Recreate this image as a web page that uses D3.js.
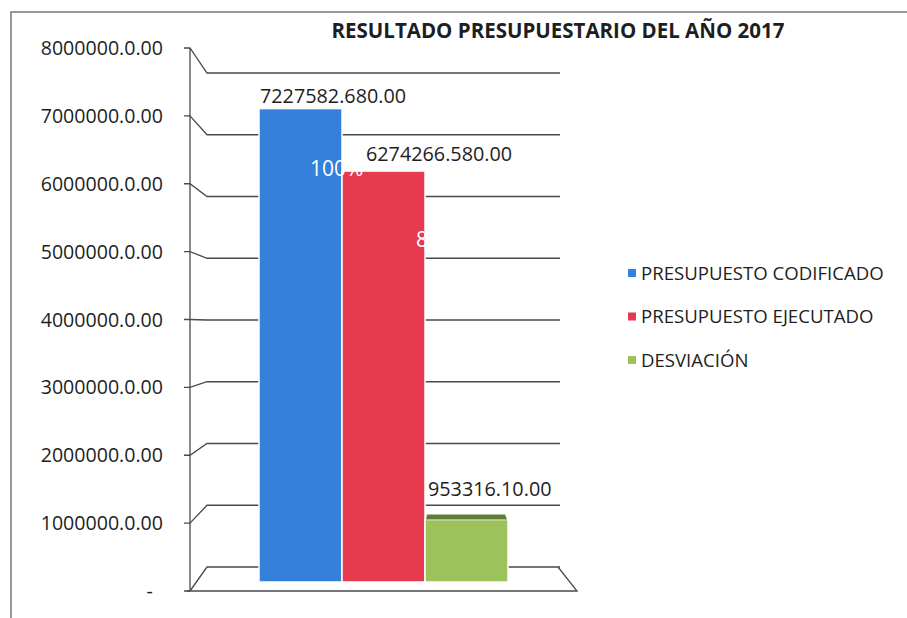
<!DOCTYPE html>
<html>
<head>
<meta charset="utf-8">
<script src="https://cdn.jsdelivr.net/npm/d3@7"></script>
<style>
  body { margin: 0; background: #fff; }
  svg { display: block; font-family: "Open Sans", sans-serif; }
</style>
</head>
<body>
<div id="chart"></div>
<script>
// data
const categories = ["PRESUPUESTO CODIFICADO", "PRESUPUESTO EJECUTADO", "DESVIACIÓN"];
const values = [7227582.68, 6274266.58, 953316.10];
const valueLabels = ["7227582.680.00", "6274266.580.00", "953316.10.00"];
const pctLabels = ["100%", "87%", ""];
const yTicks = [0, 1000000, 2000000, 3000000, 4000000, 5000000, 6000000, 7000000, 8000000];
const tickLabels = ["-  ", "1000000.0.00", "2000000.0.00", "3000000.0.00", "4000000.0.00",
                    "5000000.0.00", "6000000.0.00", "7000000.0.00", "8000000.0.00"];
const title = "RESULTADO PRESUPUESTARIO DEL AÑO 2017";

const colors = ["#3580da", "#e63a4e", "#9cc25c"];
const topColors = ["#3580da", "#e63a4e", "#5e7d36"];

const width = 907,
      height = 618;

const svg = d3.select("#chart").append("svg")
    .attr("width", width)
    .attr("height", height);

// scan frame (only top and left edge show)
svg.append("path")
    .attr("d", "M11,618 L11,12 L907,12")
    .attr("fill", "none")
    .attr("stroke", "#777")
    .attr("stroke-width", 1.5);

// three vertical scales: front edge, back wall, bars (perspective)
const yFront = d3.scaleLinear().domain([0, 8000000]).range([591, 48]);
const yBack = d3.scaleLinear().domain([0, 8000000]).range([567, 73]);
const yBar = d3.scaleLinear().domain([0, 8000000]).range([582, 58]);

const x = d3.scaleBand().domain(categories).range([259, 508]).padding(0);

const axisX = 190, backX = 207, backRight = 560;

// back wall gridlines + side wall diagonals
const grid = svg.append("g")
    .attr("stroke", "#4a4a4a")
    .attr("stroke-width", 1.3)
    .attr("fill", "none");

grid.selectAll(".gl")
    .data(yTicks)
    .enter().append("path")
    .attr("class", "gl")
    .attr("d", d => "M" + (axisX - 6) + "," + yFront(d) + " L" + axisX + "," + yFront(d) +
                   " L" + backX + "," + yBack(d) + " L" + backRight + "," + yBack(d));

// vertical axis line
grid.append("line")
    .attr("x1", axisX).attr("x2", axisX)
    .attr("y1", yFront(8000000)).attr("y2", yFront(0));

// floor
grid.append("path")
    .attr("d", "M" + (axisX - 3) + "," + yFront(0) + " L577," + yFront(0) +
               " L558," + yBack(0));

// tick labels
svg.append("g")
    .selectAll("text")
    .data(yTicks)
    .enter().append("text")
    .attr("x", 163)
    .attr("y", d => yFront(d) + 7)
    .attr("text-anchor", "end")
    .style("white-space", "pre")
    .style("font-size", "19.6px")
    .attr("fill", "#1e1e1e")
    .text((d, i) => tickLabels[i]);

// bars
const bars = svg.append("g");
bars.selectAll("rect")
    .data(values)
    .enter().append("rect")
    .attr("x", (d, i) => x(categories[i]))
    .attr("y", d => yBar(d))
    .attr("width", x.bandwidth())
    .attr("height", d => yBar(0) - yBar(d))
    .attr("fill", (d, i) => colors[i])
    .attr("stroke", "#fff")
    .attr("stroke-width", 1.5);

// 3d top face (visible on the small bar)
bars.selectAll(".top")
    .data(values)
    .enter().append("path")
    .attr("class", "top")
    .attr("d", (d, i) => {
        const x0 = x(categories[i]), x1 = x0 + x.bandwidth(), t = yBar(d);
        return "M" + (x0 + 1) + "," + t + " L" + (x0 + 2) + "," + (t - 5) +
               " L" + (x1 - 3) + "," + (t - 5) + " L" + (x1 - 1) + "," + t + "Z";
    })
    .attr("fill", (d, i) => topColors[i])
    .attr("opacity", (d, i) => i === 2 ? 1 : 0);

// value labels (hand-placed in the original)
const labelDx = [1, 24, 3],
      labelDy = [-6, -10, -24];
svg.append("g")
    .selectAll("text")
    .data(values)
    .enter().append("text")
    .attr("x", (d, i) => x(categories[i]) + labelDx[i])
    .attr("y", (d, i) => yBar(d) + labelDy[i])
    .style("font-size", "19.8px")
    .attr("fill", "#1e1e1e")
    .text((d, i) => valueLabels[i]);

// percentage labels, white, mostly hidden
const pctDx = [51, 74],
      pctDy = [67, 76];
svg.append("g")
    .selectAll("text")
    .data(values.slice(0, 2))
    .enter().append("text")
    .attr("x", (d, i) => x(categories[i]) + pctDx[i])
    .attr("y", (d, i) => yBar(d) + pctDy[i])
    .style("font-size", "21px")
    .attr("fill", "#ffffff")
    .text((d, i) => pctLabels[i]);

// title
svg.append("text")
    .attr("x", 558)
    .attr("y", 38)
    .attr("text-anchor", "middle")
    .style("font-size", "20.5px")
    .style("font-weight", "bold")
    .attr("fill", "#1e1e1e")
    .text(title);

// legend
const legend = svg.append("g")
    .selectAll("g")
    .data(categories)
    .enter().append("g")
    .attr("transform", (d, i) => "translate(628," + (273 + i * 43.5) + ")");

legend.append("rect")
    .attr("x", 0).attr("y", -4)
    .attr("width", 8).attr("height", 8)
    .attr("fill", (d, i) => colors[i]);

legend.append("text")
    .attr("x", 13)
    .attr("y", 6.5)
    .style("font-size", "18.6px")
    .attr("fill", "#1e1e1e")
    .text(d => d);
</script>
</body>
</html>
